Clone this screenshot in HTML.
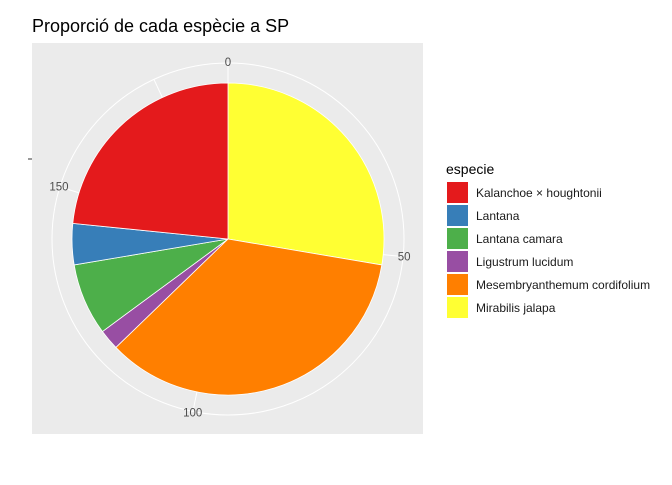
<!DOCTYPE html>
<html><head><meta charset="utf-8"><style>
body{margin:0;background:#fff;font-family:"Liberation Sans",Arial,sans-serif}
</style></head><body>
<svg id="chart" width="672" height="480" xmlns="http://www.w3.org/2000/svg" font-family="Liberation Sans, Arial, sans-serif">
<rect width="672" height="480" fill="#fff"/>
<text x="32" y="32" font-size="18" fill="#000">Proporció de cada espècie a SP</text>
<rect x="32" y="43" width="391" height="391" fill="#ebebeb"/>
<line x1="28" y1="159" x2="32" y2="159" stroke="#333" stroke-width="1"/>
<g id="grid"></g>
<g id="slices"></g>
<g id="ticks"></g>
<text x="446" y="174" font-size="14" fill="#000">especie</text>
<g id="legend"></g>
</svg>
<script>
const categories=["Kalanchoe × houghtonii","Lantana","Lantana camara","Ligustrum lucidum","Mesembryanthemum cordifolium","Mirabilis jalapa"];
const values=[44,8,14,4,66,52];
const colors=["#e41a1c","#377eb8","#4daf4a","#984ea3","#ff7f00","#ffff33"];
const tickValues=[0,50,100,150];
const tickLabels=["0","50","100","150"];
const NS="http://www.w3.org/2000/svg";
const cx=228,cy=239,R=156,Rg=176;
const total=values.reduce((a,b)=>a+b,0);
const ang=v=>v/total*2*Math.PI;
const pt=(a,r)=>[cx+r*Math.sin(a),cy-r*Math.cos(a)];
function mk(t,attrs,parent){const e=document.createElementNS(NS,t);for(const k in attrs)e.setAttribute(k,attrs[k]);parent.appendChild(e);return e;}
const grid=document.getElementById('grid');
const oc=mk('circle',{cx:cx,cy:cy,r:Rg,fill:'none',stroke:'#fff','stroke-width':1},grid);


[...tickValues,175].forEach(v=>{const p=pt(ang(v),Rg);const l=mk('line',{x1:cx,y1:cy,x2:p[0],y2:p[1],stroke:'#fff','stroke-width':1},grid);

});
const sl=document.getElementById('slices');
let cum=0;
for(let i=categories.length-1;i>=0;i--){
 const a0=ang(cum),a1=ang(cum+values[i]);cum+=values[i];
 const p0=pt(a0,R),p1=pt(a1,R);const large=(a1-a0)>Math.PI?1:0;
 const p=mk('path',{d:`M${cx},${cy}L${p0[0]},${p0[1]}A${R},${R} 0 ${large} 1 ${p1[0]},${p1[1]}Z`,fill:colors[i],stroke:'#fff','stroke-width':0.8},sl);
 
 
}
const tk=document.getElementById('ticks');
tickValues.forEach((v,i)=>{const a=ang(v);const p=pt(a,Rg+1);
 const t=mk('text',{x:p[0],y:p[1]+4,'font-size':11.5,fill:'#4d4d4d','text-anchor':'middle'},tk);t.textContent=tickLabels[i];
 
 });
const lg=document.getElementById('legend');
categories.forEach((c,i)=>{const y=182+i*23;
 const r=mk('rect',{x:447,y:y,width:21,height:21,fill:colors[i]},lg);
 
 
 const t=mk('text',{x:476,y:y+15,'font-size':12,fill:'#1a1a1a'},lg);t.textContent=c;
 
 });
</script>
</body></html>
